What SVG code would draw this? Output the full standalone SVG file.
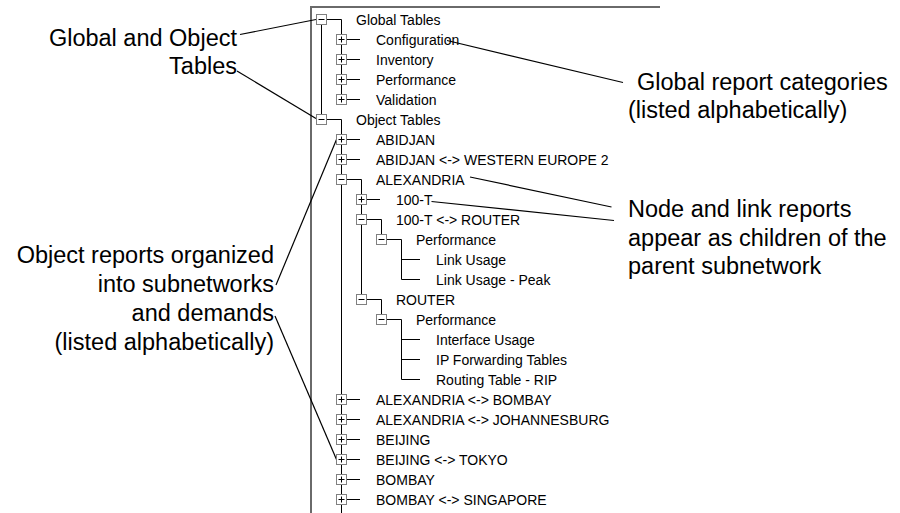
<svg xmlns="http://www.w3.org/2000/svg" width="900" height="513" viewBox="0 0 900 513">
<style>
.bg{fill:#ffffff}
.panel{stroke:#6a6a6a;stroke-width:2;fill:none}
.t{font-family:"Liberation Sans",Arial,sans-serif;font-size:14px;fill:#000}
.a{font-family:"Liberation Sans",Arial,sans-serif;font-size:23.5px;fill:#000}
.e{text-anchor:end}
.ln{stroke:#000;stroke-width:1;fill:none}
.ld{stroke:#000;stroke-width:1.2;fill:none}
.bx{fill:#fff;stroke:#808080;stroke-width:1}
.sg{stroke:#000;stroke-width:1;fill:none}
</style>
<defs>
<g id="minus"><rect class="bx" x="-5" y="-5" width="10" height="10"/><path class="sg" d="M-3,0H3"/></g>
<g id="plus"><rect class="bx" x="-5" y="-5" width="10" height="10"/><path class="sg" d="M-3,0H3M0,-3V3"/></g>
</defs>
<rect class="bg" x="0" y="0" width="900" height="513"/>
<g id="panel">
<path class="panel" d="M311,513V7H660"/>
</g>
<g id="connectors">
<!-- tree lines -->
<path class="ln" d="M321.5,19.5V119.5"/>
<path class="ln" d="M326.5,19.5H341.5V99.5"/>
<path class="ln" d="M346.5,39.5H360M346.5,59.5H360M346.5,79.5H360M346.5,99.5H360"/>
<path class="ln" d="M326.5,119.5H341.5V513"/>
<path class="ln" d="M346.5,139.5H360M346.5,159.5H360M346.5,399.5H360M346.5,419.5H360M346.5,439.5H360M346.5,459.5H360M346.5,479.5H360M346.5,499.5H360"/>
<path class="ln" d="M346.5,179.5H361.5V299.5"/>
<path class="ln" d="M366.5,199.5H380"/>
<path class="ln" d="M366.5,219.5H381.5V239.5"/>
<path class="ln" d="M366.5,299.5H381.5V319.5"/>
<path class="ln" d="M386.5,239.5H401.5V279.5"/>
<path class="ln" d="M386.5,319.5H401.5V379.5"/>
<path class="ln" d="M401.5,259.5H420M401.5,279.5H420M401.5,339.5H420M401.5,359.5H420M401.5,379.5H420"/>
<!-- leader lines -->
<path class="ld" d="M240,34.5L316,19.5"/>
<path class="ld" d="M237,71L316,118.5"/>
<path class="ld" d="M447,40.5L623,82.5"/>
<path class="ld" d="M470,177L611.5,207"/>
<path class="ld" d="M431.5,201.5L614,220.5"/>
<path class="ld" d="M276,285L336.5,139.5"/>
<path class="ld" d="M275,316L336.5,459.5"/>
</g>
<g id="n-global-tables"><use href="#minus" x="321.5" y="19.5"/><text class="t" x="356" y="24.5">Global Tables</text></g>
<g id="n-configuration"><use href="#plus" x="341.5" y="39.5"/><text class="t" x="376" y="44.5">Configuration</text></g>
<g id="n-inventory"><use href="#plus" x="341.5" y="59.5"/><text class="t" x="376" y="64.5">Inventory</text></g>
<g id="n-performance-g"><use href="#plus" x="341.5" y="79.5"/><text class="t" x="376" y="84.5">Performance</text></g>
<g id="n-validation"><use href="#plus" x="341.5" y="99.5"/><text class="t" x="376" y="104.5">Validation</text></g>
<g id="n-object-tables"><use href="#minus" x="321.5" y="119.5"/><text class="t" x="356" y="124.5">Object Tables</text></g>
<g id="n-abidjan"><use href="#plus" x="341.5" y="139.5"/><text class="t" x="376" y="144.5">ABIDJAN</text></g>
<g id="n-abidjan-we2"><use href="#plus" x="341.5" y="159.5"/><text class="t" x="376" y="164.5">ABIDJAN &lt;-&gt; WESTERN EUROPE 2</text></g>
<g id="n-alexandria"><use href="#minus" x="341.5" y="179.5"/><text class="t" x="376" y="184.5">ALEXANDRIA</text></g>
<g id="n-100t"><use href="#plus" x="361.5" y="199.5"/><text class="t" x="396" y="204.5">100-T</text></g>
<g id="n-100t-router"><use href="#minus" x="361.5" y="219.5"/><text class="t" x="396" y="224.5">100-T &lt;-&gt; ROUTER</text></g>
<g id="n-performance-1"><use href="#minus" x="381.5" y="239.5"/><text class="t" x="416" y="244.5">Performance</text></g>
<g id="n-link-usage"><text class="t" x="436" y="264.5">Link Usage</text></g>
<g id="n-link-usage-peak"><text class="t" x="436" y="284.5">Link Usage - Peak</text></g>
<g id="n-router"><use href="#minus" x="361.5" y="299.5"/><text class="t" x="396" y="304.5">ROUTER</text></g>
<g id="n-performance-2"><use href="#minus" x="381.5" y="319.5"/><text class="t" x="416" y="324.5">Performance</text></g>
<g id="n-interface-usage"><text class="t" x="436" y="344.5">Interface Usage</text></g>
<g id="n-ip-forwarding"><text class="t" x="436" y="364.5">IP Forwarding Tables</text></g>
<g id="n-routing-rip"><text class="t" x="436" y="384.5">Routing Table - RIP</text></g>
<g id="n-alex-bombay"><use href="#plus" x="341.5" y="399.5"/><text class="t" x="376" y="404.5">ALEXANDRIA &lt;-&gt; BOMBAY</text></g>
<g id="n-alex-joburg"><use href="#plus" x="341.5" y="419.5"/><text class="t" x="376" y="424.5">ALEXANDRIA &lt;-&gt; JOHANNESBURG</text></g>
<g id="n-beijing"><use href="#plus" x="341.5" y="439.5"/><text class="t" x="376" y="444.5">BEIJING</text></g>
<g id="n-beijing-tokyo"><use href="#plus" x="341.5" y="459.5"/><text class="t" x="376" y="464.5">BEIJING &lt;-&gt; TOKYO</text></g>
<g id="n-bombay"><use href="#plus" x="341.5" y="479.5"/><text class="t" x="376" y="484.5">BOMBAY</text></g>
<g id="n-bombay-singapore"><use href="#plus" x="341.5" y="499.5"/><text class="t" x="376" y="504.5">BOMBAY &lt;-&gt; SINGAPORE</text></g>
<g id="note-global-object">
<text class="a e" x="237" y="45.5">Global and Object</text>
<text class="a e" x="237" y="74">Tables</text>
</g>
<g id="note-object-reports">
<text class="a e" x="274" y="262.5">Object reports organized</text>
<text class="a e" x="274" y="292">into subnetworks</text>
<text class="a e" x="274" y="321">and demands</text>
<text class="a e" x="274" y="350">(listed alphabetically)</text>
</g>
<g id="note-global-categories">
<text class="a" x="637" y="89.5">Global report categories</text>
<text class="a" x="628" y="117.5">(listed alphabetically)</text>
</g>
<g id="note-node-link">
<text class="a" x="628" y="217">Node and link reports</text>
<text class="a" x="628" y="246">appear as children of the</text>
<text class="a" x="628" y="274">parent subnetwork</text>
</g>
</svg>
